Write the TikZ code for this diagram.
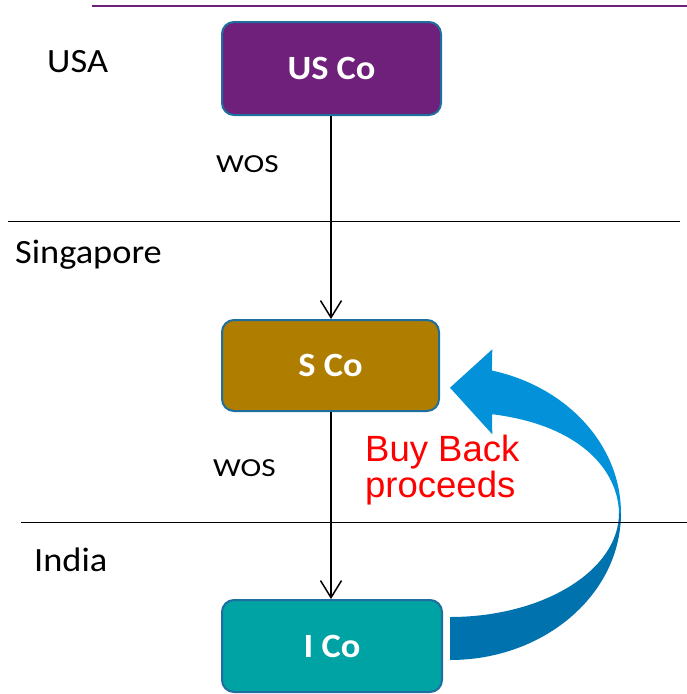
\documentclass[tikz,border=0pt]{standalone}
\usepackage{fontspec}
\setmainfont{Carlito}[FakeStretch=1.07]
\newfontfamily\arialfont{Liberation Sans}
\newfontfamily\wosfont{Carlito}[FakeStretch=1.2]
\usetikzlibrary{arrows.meta}
\definecolor{uspurple}{RGB}{110,32,122}
\definecolor{sgold}{RGB}{175,126,0}
\definecolor{iteal}{RGB}{0,163,163}
\definecolor{boxborder}{RGB}{31,110,160}
\definecolor{arrowlight}{RGB}{3,146,218}
\definecolor{arrowdark}{RGB}{0,115,174}
\definecolor{buyred}{RGB}{255,0,0}
\tikzset{
  entity/.style={draw=boxborder, line width=2pt, rounded corners=12pt, inner sep=0pt,
    text=white, font=\fontsize{34}{40}\selectfont\bfseries},
  region/.style={anchor=base west, inner sep=0pt, font=\fontsize{34}{40}\selectfont},
  wos/.style={anchor=base west, inner sep=0pt, font=\wosfont\fontsize{26}{30}\selectfont},
  link/.style={line width=1.5pt, -{Straight Barb[length=17pt,width=21pt,line width=1.5pt]}},
  divider/.style={line width=1.3pt, black}
}
\begin{document}
\begin{tikzpicture}[x=1pt,y=-1pt]
\useasboundingbox (0,0) rectangle (687,694);
% top purple rule
\coordinate (tl) at (92,5.5);
\coordinate (tr) at (687,5.5);
\draw[uspurple, line width=2pt] (tl) -- (tr);
% region labels
\node[region] (usa) at (47,72.7) {USA};
\node[region] (sing) at (15,263.3) {Singapore};
\node[region] (ind) at (34,571) {India};
% boxes
\node[entity, fill=uspurple, minimum width=219pt, minimum height=93pt] (us) at (331.5,68.5) {US Co};
\node[entity, fill=sgold, minimum width=217pt, minimum height=91pt] (s) at (330.5,365.5) {S Co};
\node[entity, fill=iteal, minimum width=220pt, minimum height=92pt] (i) at (332,646) {I Co};
% connectors
\draw[link] (us.south -| 331,0) -- (331,319);
\draw[link] (s.south -| 331,0) -- (331,599);
% WOS labels
\node[wos] (w1) at (216,172.3) {WOS};
\node[wos] (w2) at (213,476.5) {WOS};
% buy back text
\node[anchor=base west, inner sep=0pt, align=left, text=buyred,
  font=\arialfont\fontsize{36.5}{32.4}\selectfont] (bb) at (365,497) {Buy Back\\proceeds};
% curved arrow: lower (back) band
\fill[arrowdark] (621,513) arc[start angle=0, end angle=90, x radius=171, y radius=147]
  -- (450,617) arc[start angle=90, end angle=0, x radius=169, y radius=104] -- cycle;
% upper (front) band with head
\fill[arrowlight] (491.9,370.5) arc[start angle=-75.8, end angle=0, x radius=171, y radius=147]
  -- (619,513) .. controls (618,470) and (580,425) .. (492,414.2)
  -- (492.3,434.3) -- (450,387.7) -- (492.3,349.3) -- cycle;
% region dividers
\coordinate (d1a) at (8,221.5);
\coordinate (d1b) at (680,221.5);
\coordinate (d2a) at (21,522.5);
\coordinate (d2b) at (687,522.5);
\draw[divider] (d1a) -- (d1b);
\draw[divider] (d2a) -- (d2b);
\end{tikzpicture}
\end{document}
